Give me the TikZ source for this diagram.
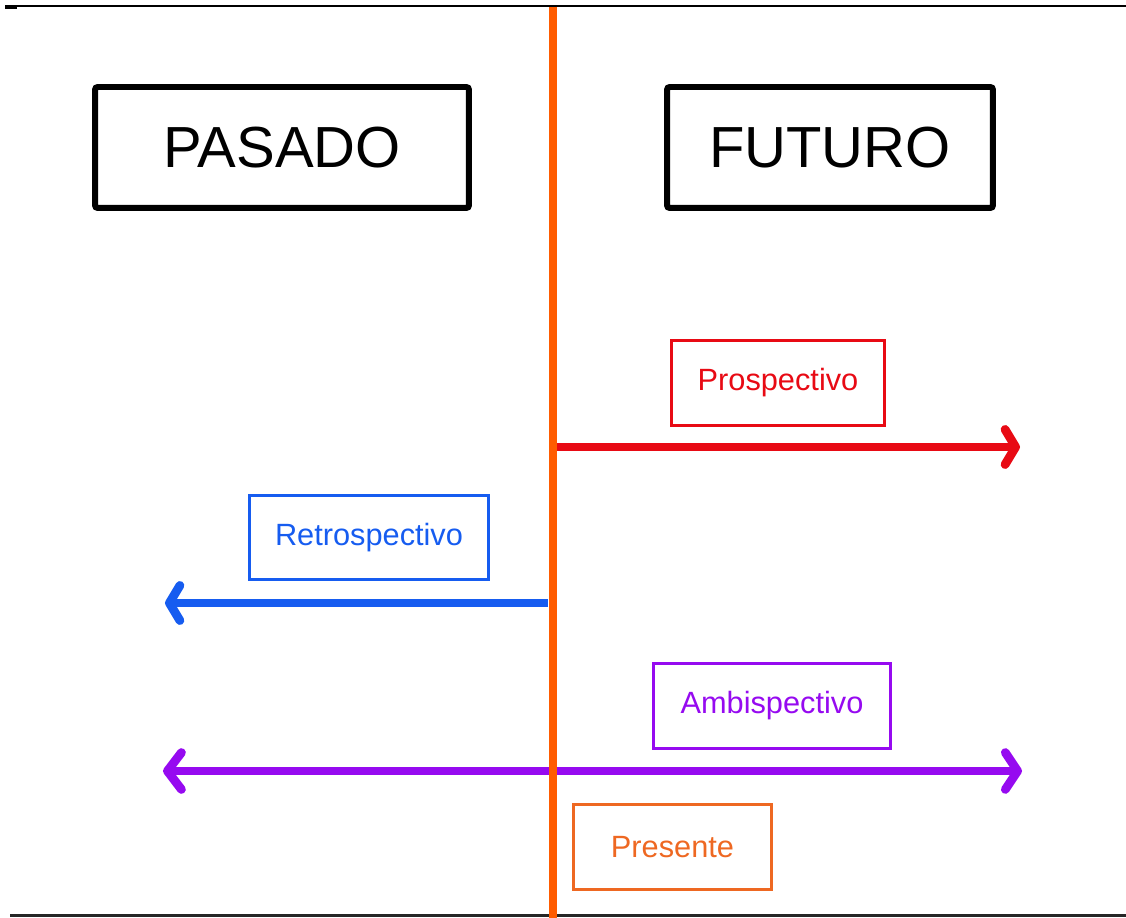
\documentclass[tikz,border=0pt]{standalone}
\usepackage{fontspec}
\setmainfont{Liberation Sans}
\usetikzlibrary{positioning,arrows.meta}
\definecolor{nowline}{RGB}{255,92,0}
\definecolor{nowbox}{RGB}{238,104,34}
\definecolor{prosp}{RGB}{232,10,20}
\definecolor{retro}{RGB}{22,92,240}
\definecolor{ambi}{RGB}{150,10,240}
\tikzset{epoch/.style={draw=black, line width=3.4pt, rounded corners=1.5, inner sep=0pt, minimum height=2.42cm, font=\fontsize{33}{36}\selectfont}}
\tikzset{aspect/.style={draw=#1, text=#1, line width=1.7pt, inner sep=0pt, minimum height=1.7cm, font=\fontsize{17.5}{20}\selectfont}}
\tikzset{arr/.style={draw=#1, line width=5pt, line cap=round, -{Straight Barb[length=6pt, width=20pt, round]}}}
\tikzset{arr2/.style={arr=#1, {Straight Barb[length=8pt, width=21pt, round]}-{Straight Barb[length=7pt, width=21pt, round]}}}

\begin{document}
\begin{tikzpicture}[x=0.02cm, y=-0.02cm]
	\useasboundingbox (0,0) rectangle (1126,918);
	% frame lines
	\draw[line width=0.9pt] (5,6) -- (1126,6);
	\draw[line width=1.8pt] (5,7) -- (17,7);
	\draw[line width=1.8pt, black!85] (10,915.5) -- (1126,915.5);

	% the present
	\coordinate (top) at (553,7);
	\coordinate (bot) at (553,918);
	\draw[nowline, line width=4pt] (top) -- (bot);

	\node[epoch, minimum width=7.48cm] (past) at (282,147.5) {PASADO};
	\node[epoch, minimum width=6.52cm] (fut) at (830,147.5) {FUTURO};

	\node[aspect=prosp, minimum width=4.26cm] (pro) at (778,383) {Prospectivo};
	\node[aspect=retro, minimum width=4.78cm] (ret) at (369,537.5) {Retrospectivo};
	\node[aspect=ambi, minimum width=4.74cm] (amb) at (772,706) {Ambispectivo};
	\node[aspect=nowbox, minimum width=3.96cm] (pre) at (672.5,847) {Presente};

	\coordinate (proA) at (557,447);
	\coordinate (proB) at (1020,447);
	\coordinate (retA) at (548,603);
	\coordinate (retB) at (165,603);
	\coordinate (ambA) at (163,771);
	\coordinate (ambB) at (1022,771);
	\draw[arr=prosp, line cap=butt] (proA) -- (proB);
	\draw[arr=retro, line cap=butt] (retA) -- (retB);
	\draw[arr2=ambi] (ambA) -- (ambB);
	\draw[nowline, line width=4pt] (553,740) -- (553,800);
\end{tikzpicture}
\end{document}
